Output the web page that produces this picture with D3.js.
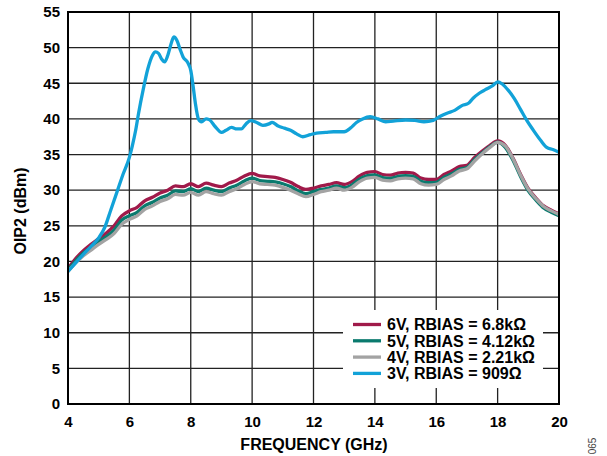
<!DOCTYPE html>
<html>
<head>
<meta charset="utf-8">
<script src="https://cdn.jsdelivr.net/npm/d3@7"></script>
<style>
  html, body { margin: 0; padding: 0; background: #fff; }
  svg { display: block; }
  text { font-family: "Liberation Sans", Arial, sans-serif; font-weight: bold; fill: #000; }
</style>
</head>
<body>
<svg id="chart" width="607" height="456"></svg>
<script>
// ---- data ----
const freq = [4.0,4.25,4.5,4.75,5.0,5.25,5.5,5.75,6.0,6.25,6.5,6.75,7.0,7.25,7.5,7.75,8.0,8.25,8.5,8.75,9.0,9.25,9.5,9.75,10.0,10.25,10.5,10.75,11.0,11.25,11.5,11.75,12.0,12.25,12.5,12.75,13.0,13.25,13.5,13.75,14.0,14.25,14.5,14.75,15.0,15.25,15.5,15.75,16.0,16.25,16.5,16.75,17.0,17.25,17.5,17.75,18.0,18.25,18.5,18.75,19.0,19.25,19.5,19.75,20.0];

const oip2_6V = [19.0,20.4,21.5,22.4,23.2,24.0,25.0,26.4,27.1,27.6,28.5,29.0,29.6,30.0,30.6,30.5,30.9,30.5,31.0,30.7,30.5,31.0,31.4,32.0,32.35,32.0,31.9,31.8,31.5,31.1,30.5,30.1,30.3,30.6,30.8,31.05,30.8,31.2,32.0,32.5,32.6,32.2,32.1,32.4,32.5,32.4,31.7,31.5,31.5,32.2,32.7,33.3,33.5,34.6,35.5,36.3,36.9,36.3,34.5,32.2,30.2,28.9,27.8,27.2,26.7];

const oip2_5V = [18.8,20.1,21.2,22.0,22.8,23.5,24.4,25.8,26.4,26.9,27.8,28.3,28.9,29.3,29.9,29.8,30.2,29.8,30.3,30.0,29.8,30.3,30.7,31.3,31.7,31.35,31.25,31.15,30.9,30.5,29.9,29.5,29.8,30.1,30.3,30.6,30.35,30.75,31.55,32.05,32.15,31.75,31.65,31.95,32.05,31.95,31.25,31.05,31.1,31.8,32.3,32.95,33.2,34.3,35.25,36.1,36.75,36.0,34.2,31.9,29.9,28.6,27.5,26.9,26.4];

const oip2_4V = [18.6,19.8,20.8,21.6,22.4,23.1,23.9,25.2,25.9,26.4,27.3,27.8,28.4,28.8,29.4,29.3,29.7,29.3,29.8,29.5,29.3,29.8,30.2,30.8,31.2,30.9,30.8,30.7,30.4,30.0,29.5,29.1,29.4,29.8,30.0,30.3,30.0,30.4,31.2,31.7,31.8,31.4,31.3,31.6,31.7,31.6,30.9,30.7,30.8,31.5,32.0,32.7,33.0,34.1,35.1,36.0,36.7,36.2,34.4,32.1,30.1,28.8,27.7,27.1,26.6];

const freq_3V = [4.0,4.25,4.5,4.75,5.0,5.2,5.4,5.6,5.8,6.0,6.1,6.2,6.3,6.45,6.6,6.75,6.85,6.95,7.05,7.15,7.25,7.35,7.45,7.55,7.65,7.75,7.9,8.0,8.08,8.15,8.25,8.35,8.5,8.6,8.8,9.0,9.15,9.33,9.5,9.65,9.8,9.95,10.15,10.35,10.55,10.65,10.85,11.05,11.25,11.45,11.65,11.9,12.1,12.4,12.65,13.0,13.2,13.4,13.6,13.85,14.1,14.35,14.6,15.0,15.3,15.6,15.9,16.1,16.35,16.6,16.85,17.05,17.2,17.4,17.6,17.85,18.0,18.15,18.35,18.55,18.75,18.95,19.15,19.4,19.6,19.8,20.0];
const oip2_3V = [18.6,19.8,21.0,22.1,23.3,24.8,27.3,29.8,32.3,34.6,36.3,38.3,40.8,44.1,47.0,48.9,49.4,49.2,48.4,48.0,48.9,50.4,51.5,51.0,49.8,48.7,47.9,46.8,44.5,42.2,40.0,39.6,40.0,39.9,38.9,38.1,38.4,38.8,38.6,38.6,39.3,39.75,39.5,39.1,39.3,39.5,39.0,38.7,38.4,37.9,37.5,37.8,38.0,38.1,38.2,38.2,38.7,39.5,40.0,40.3,40.0,39.6,39.7,39.85,39.8,39.6,39.8,40.3,40.8,41.2,41.9,42.2,42.9,43.6,44.1,44.7,45.2,44.9,44.0,42.8,41.3,39.8,38.5,37.0,36.0,35.7,35.3];

const xTicks = [4,6,8,10,12,14,16,18,20];
const yTicks = [0,5,10,15,20,25,30,35,40,45,50,55];
const legendLabels = ["6V, RBIAS = 6.8kΩ","5V, RBIAS = 4.12kΩ","4V, RBIAS = 2.21kΩ","3V, RBIAS = 909Ω"];
const seriesColors = ["#a01a4a","#0a7a6e","#a3a3a3","#12a2d8"];
const xTitle = "FREQUENCY (GHz)";
const yTitle = "OIP2 (dBm)";
const figId = "065";

// ---- layout ----
const svg = d3.select("#chart");
const L = 68, R = 559, T = 12, B = 404;
const x = d3.scaleLinear().domain([4,20]).range([L,R]);
const y = d3.scaleLinear().domain([0,55]).range([B,T]);

// grid
const grid = svg.append("g");
grid.selectAll("line.v").data(xTicks).join("line")
  .attr("x1", d => x(d)).attr("x2", d => x(d))
  .attr("y1", T).attr("y2", B)
  .attr("stroke", "#222").attr("stroke-width", 1.3);
grid.selectAll("line.h").data(yTicks).join("line")
  .attr("x1", L).attr("x2", R)
  .attr("y1", d => y(d)).attr("y2", d => y(d))
  .attr("stroke", "#222").attr("stroke-width", 1.3);

// legend background (covers grid)
const legX = 343, legY = 310, legW = 200, legH = 78;
svg.append("rect").attr("x", legX).attr("y", legY).attr("width", legW).attr("height", legH).attr("fill", "#fff");

// series
const line = d3.line().x(d => x(d[0])).y(d => y(d[1])).curve(d3.curveMonotoneX);
const series = [
  {xs: freq, ys: oip2_6V, c: seriesColors[0]},
  {xs: freq, ys: oip2_5V, c: seriesColors[1]},
  {xs: freq, ys: oip2_4V, c: seriesColors[2]},
  {xs: freq_3V, ys: oip2_3V, c: seriesColors[3]}
];
const clip = svg.append("clipPath").attr("id","clip").append("rect")
  .attr("x", L).attr("y", T).attr("width", R-L).attr("height", B-T);
const lines = svg.append("g").attr("clip-path","url(#clip)");
series.forEach(s => {
  lines.append("path")
    .datum(s.xs.map((v,i) => [v, s.ys[i]]))
    .attr("d", line)
    .attr("fill", "none")
    .attr("stroke", s.c)
    .attr("stroke-width", 3.3)
    .attr("stroke-linejoin", "round")
    .attr("stroke-linecap", "round");
});

// frame
svg.append("rect").attr("x", L).attr("y", T).attr("width", R-L).attr("height", B-T)
  .attr("fill","none").attr("stroke","#000").attr("stroke-width",2);

// axes
const xAxis = d3.axisBottom(x).tickValues(xTicks).tickSize(0).tickPadding(12);
const gx = svg.append("g").attr("transform", `translate(0,${B})`).call(xAxis);
gx.select(".domain").remove();
gx.selectAll("text").attr("font-size", 15).attr("font-family", "Liberation Sans, Arial, sans-serif").attr("font-weight","bold").attr("fill","#000");

const yAxis = d3.axisLeft(y).tickValues(yTicks).tickSize(0).tickPadding(8);
const gy = svg.append("g").attr("transform", `translate(${L},0)`).call(yAxis);
gy.select(".domain").remove();
gy.selectAll("text").attr("font-size", 15).attr("font-family", "Liberation Sans, Arial, sans-serif").attr("font-weight","bold").attr("fill","#000");

// axis titles
svg.append("text").attr("x", (L+R)/2 + 0.5).attr("y", 450)
  .attr("text-anchor","middle").attr("font-size", 16).text(xTitle);
svg.append("text").attr("transform", "translate(26,211) rotate(-90)")
  .attr("text-anchor","middle").attr("font-size", 16).text(yTitle);

// legend
const leg = svg.append("g");
legendLabels.forEach((lab,i) => {
  const yy = 324.5 + i*16.3;
  leg.append("line").attr("x1", 353).attr("x2", 381).attr("y1", yy).attr("y2", yy)
    .attr("stroke", seriesColors[i]).attr("stroke-width", 3.3);
  leg.append("text").attr("x", 387).attr("y", yy + 5.7).attr("font-size", 16).text(lab);
});

// figure id
svg.append("text").attr("transform", "translate(596,446) rotate(-90)")
  .attr("text-anchor","middle").attr("font-size", 10).attr("font-weight","normal")
  .attr("fill","#444").style("fill","#444").style("font-weight","normal").text(figId);
</script>
</body>
</html>
